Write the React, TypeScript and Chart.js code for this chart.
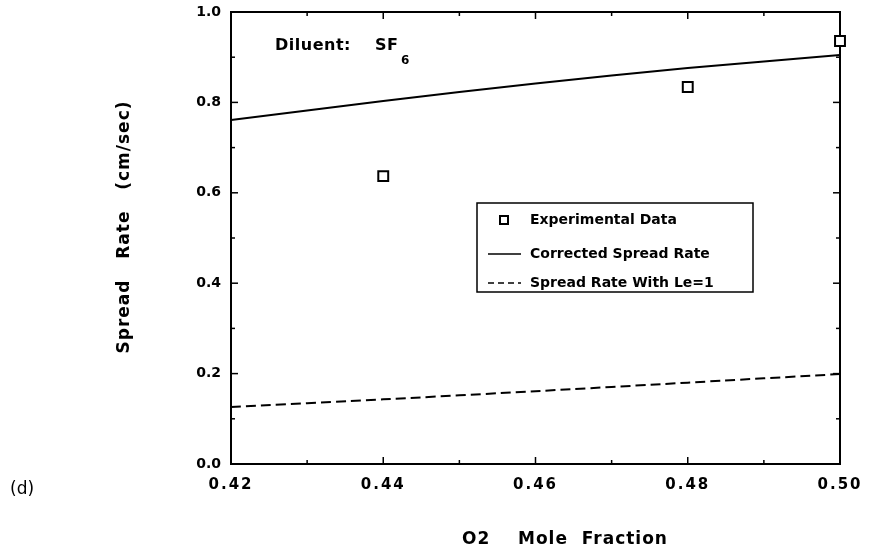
import React, { useEffect, useRef } from 'react';
import { Chart, registerables } from 'chart.js';

Chart.register(...registerables);

// ---- data ----
const o2Fraction = [0.42, 0.44, 0.46, 0.48, 0.5];
const correctedRate = [0.761, 0.803, 0.842, 0.876, 0.905];
const leOneRate = [0.126, 0.143, 0.161, 0.18, 0.199];
const expFraction = [0.44, 0.48, 0.5];
const expRate = [0.637, 0.834, 0.936];

const xTicks = [0.42, 0.44, 0.46, 0.48, 0.5];
const xTickLabels = ['0.42', '0.44', '0.46', '0.48', '0.50'];
const xMinorTicks = [0.43, 0.45, 0.47, 0.49];
const yTicks = [0, 0.2, 0.4, 0.6, 0.8, 1.0];
const yTickLabels = ['0.0', '0.2', '0.4', '0.6', '0.8', '1.0'];
const yMinorTicks = [0.1, 0.3, 0.5, 0.7, 0.9];

const seriesLabels = ['Experimental Data', 'Corrected Spread Rate', 'Spread Rate With Le=1'];

const FONT = 'DejaVu Sans';

const framePlugin = {
  id: 'frameAndText',
  beforeDatasetsDraw(chart: any) {
    const { ctx, chartArea: a, scales } = chart;
    const xs = scales.x;
    const ys = scales.y;
    ctx.save();
    ctx.strokeStyle = '#000';
    ctx.lineWidth = 2;
    ctx.strokeRect(a.left, a.top, a.right - a.left, a.bottom - a.top);
    ctx.lineWidth = 1.5;
    const seg = (x1: number, y1: number, x2: number, y2: number) => {
      ctx.beginPath();
      ctx.moveTo(x1, y1);
      ctx.lineTo(x2, y2);
      ctx.stroke();
    };
    for (const v of yTicks) {
      const y = ys.getPixelForValue(v);
      seg(a.left, y, a.left + 7, y);
      seg(a.right, y, a.right - 7, y);
    }
    for (const v of yMinorTicks) {
      const y = ys.getPixelForValue(v);
      seg(a.left, y, a.left + 4, y);
      seg(a.right, y, a.right - 4, y);
    }
    for (const v of xTicks) {
      const x = xs.getPixelForValue(v);
      seg(x, a.bottom, x, a.bottom - 7);
      seg(x, a.top, x, a.top + 7);
    }
    for (const v of xMinorTicks) {
      const x = xs.getPixelForValue(v);
      seg(x, a.bottom, x, a.bottom - 4);
      seg(x, a.top, x, a.top + 4);
    }
    ctx.restore();
  },
  afterDraw(chart: any) {
    const { ctx, chartArea: a, scales } = chart;
    const xs = scales.x;
    ctx.save();
    ctx.fillStyle = '#000';

    // x tick labels (letter spaced)
    ctx.font = `bold 15px "${FONT}"`;
    (ctx as any).letterSpacing = '2px';
    ctx.textAlign = 'center';
    ctx.textBaseline = 'alphabetic';
    xTicks.forEach((v, i) => {
      ctx.fillText(xTickLabels[i], xs.getPixelForValue(v), a.bottom + 25);
    });

    // axis titles
    (ctx as any).letterSpacing = '1px';
    ctx.font = `bold 17px "${FONT}"`;
    ctx.textBaseline = 'middle';
    ctx.fillText('O2    Mole  Fraction', 565, 540);

    ctx.save();
    ctx.translate(125, 227);
    ctx.rotate(-Math.PI / 2);
    ctx.fillText('Spread   Rate   (cm/sec)', 0, 0);
    ctx.restore();

    // annotation
    (ctx as any).letterSpacing = '0.5px';
    ctx.textAlign = 'left';
    ctx.textBaseline = 'alphabetic';
    ctx.font = `bold 16px "${FONT}"`;
    ctx.fillText('Diluent:', 275, 50);
    ctx.fillText('SF', 375, 50);
    ctx.font = `bold 12px "${FONT}"`;
    ctx.fillText('6', 401, 64);

    // panel label
    (ctx as any).letterSpacing = '0px';
    ctx.font = `17px "${FONT}"`;
    ctx.fillText('(d)', 10, 494);

    // legend
    const ds = chart.data.datasets;
    ctx.lineWidth = 1.5;
    ctx.strokeStyle = '#000';
    ctx.strokeRect(477, 203, 276, 89);
    const rows = [220, 254, 283];
    ctx.font = `bold 14px "${FONT}"`;
    ctx.textBaseline = 'middle';
    (ctx as any).letterSpacing = '0px';
    ds.forEach((d: any, i: number) => {
      const y = rows[i];
      ctx.save();
      ctx.strokeStyle = '#000';
      if (i === 0) {
        ctx.lineWidth = 2;
        ctx.fillStyle = '#fff';
        ctx.fillRect(500, y - 4, 8, 8);
        ctx.strokeRect(500, y - 4, 8, 8);
      } else {
        ctx.lineWidth = 1.5;
        ctx.setLineDash(i === 2 ? [6, 4] : []);
        ctx.beginPath();
        ctx.moveTo(488, y);
        ctx.lineTo(521, y);
        ctx.stroke();
      }
      ctx.restore();
      ctx.fillStyle = '#000';
      ctx.fillText(d.label, 530, y);
    });
    ctx.restore();
  },
};

export default function App() {
  const ref = useRef<HTMLCanvasElement | null>(null);

  useEffect(() => {
    if (!ref.current) return;
    const chart = new Chart(ref.current, {
      type: 'scatter',
      data: {
        datasets: [
          {
            label: seriesLabels[0],
            data: expFraction.map((x, i) => ({ x, y: expRate[i] })),
            pointStyle: 'rect',
            pointRadius: 7,
            pointBorderWidth: 2,
            pointBackgroundColor: '#fff',
            pointBorderColor: '#000',
            showLine: false,
            clip: false,
          },
          {
            label: seriesLabels[1],
            data: o2Fraction.map((x, i) => ({ x, y: correctedRate[i] })),
            showLine: true,
            borderColor: '#000',
            borderWidth: 2,
            pointRadius: 0,
            tension: 0.2,
          },
          {
            label: seriesLabels[2],
            data: o2Fraction.map((x, i) => ({ x, y: leOneRate[i] })),
            showLine: true,
            borderColor: '#000',
            borderWidth: 2,
            borderDash: [10, 5],
            pointRadius: 0,
            tension: 0.2,
          },
        ],
      },
      options: {
        animation: false,
        responsive: false,
        devicePixelRatio: 1,
        layout: { padding: { left: 0, top: 12, right: 29, bottom: 0 } },
        plugins: { legend: { display: false }, tooltip: { enabled: false } },
        scales: {
          x: {
            type: 'linear',
            min: 0.42,
            max: 0.5,
            grid: { display: false, drawTicks: false },
            border: { display: false },
            ticks: { display: false, stepSize: 0.02 },
            afterFit: (s: any) => {
              s.height = 93;
              s.paddingLeft = 0;
              s.paddingRight = 0;
            },
          },
          y: {
            type: 'linear',
            min: 0,
            max: 1,
            grid: { display: false, drawTicks: false },
            border: { display: false },
            ticks: {
              stepSize: 0.2,
              padding: 10,
              color: '#000',
              font: { family: FONT, weight: 'bold', size: 14 },
              callback: (_v: any, i: number) => yTickLabels[i],
            },
            afterFit: (s: any) => {
              s.width = 231;
              s.paddingTop = 0;
              s.paddingBottom = 0;
            },
          },
        },
      },
      plugins: [framePlugin],
    } as any);
    return () => chart.destroy();
  }, []);

  return (
    <div style={{ position: 'fixed', left: 0, top: 0, width: 869, height: 557, background: '#fff' }}>
      <canvas ref={ref} width={869} height={557} style={{ display: 'block' }} />
    </div>
  );
}
